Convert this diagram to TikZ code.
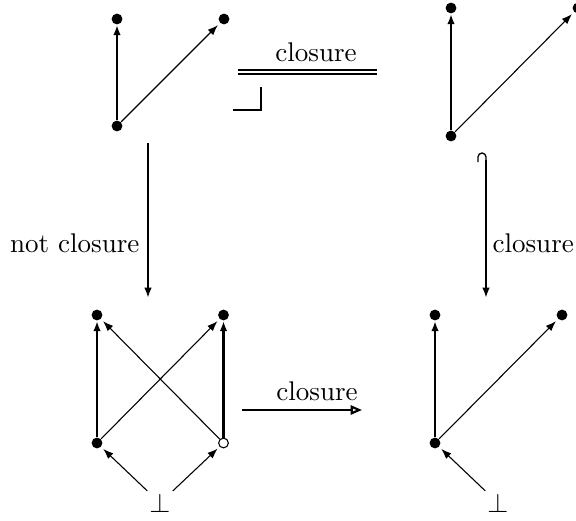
\documentclass[tikz,border=0pt]{standalone}
\usetikzlibrary{arrows.meta}
\begin{document}
\begin{tikzpicture}[x=0.37pt,y=-0.37pt,
  pt/.style={circle,fill,inner sep=0pt,minimum size=4pt},
  opt/.style={circle,draw,fill=white,line width=0.4pt,inner sep=0pt,minimum size=3.6pt},
  botm/.style={inner sep=0.8pt},
  tip/.style={-{Latex[length=3.8pt,width=2.8pt]}},
  thickar/.style={tip,line width=1.05pt},
  thinar/.style={tip,line width=0.4pt,shorten >=1pt},
  maparr/.style={tip,line width=0.9pt},
  lbl/.style={inner sep=0pt}]
\useasboundingbox (0,0) rectangle (576,520);

% upper left poset
\node[pt] (a1) at (117,19) {};
\node[pt] (a2) at (224,19) {};
\node[pt] (a0) at (117,126) {};
\draw[thickar] (a0) -- (a1);
\draw[thinar] (a0) -- (a2);

% upper right poset
\node[pt] (b1) at (451,8) {};
\node[pt] (b2) at (578,8) {};
\node[pt] (b0) at (451,136) {};
\draw[thickar] (b0) -- (b1);
\draw[thinar] (b0) -- (b2);

% lower left poset
\node[pt] (c1) at (97,315) {};
\node[pt] (c2) at (223.5,315) {};
\node[pt] (c3) at (97,443) {};
\node[opt] (c4) at (223.5,443) {};
\node[botm] (cb) at (160,503) {$\bot$};
\draw[thickar] (c3) -- (c1);
\draw[thickar] (c4) -- (c2);
\draw[thinar] (c3) -- (c2);
\draw[thinar] (c4) -- (c1);
\draw[thinar] (cb) -- (c3);
\draw[thinar] (cb) -- (c4);

% lower right poset
\node[pt] (d1) at (435,315) {};
\node[pt] (d2) at (562,315) {};
\node[pt] (d3) at (435,443) {};
\node[botm] (db) at (498,503) {$\bot$};
\draw[thickar] (d3) -- (d1);
\draw[thinar] (d3) -- (d2);
\draw[thinar] (db) -- (d3);

% maps between the posets
\coordinate (eqL) at (238,72);
\coordinate (eqR) at (377,72);
\draw[double,double distance=1.1pt,line width=0.4pt] (eqL) -- (eqR);
\node[lbl] (eqlab) at (316,52) {closure};
\draw[line width=0.7pt] (233,110) -- (261,110) -- (261,87);

\coordinate (vlS) at (148,143);
\coordinate (vlE) at (148,298);
\draw[maparr] (vlS) -- (vlE);
\node[lbl,anchor=east] (vllab) at (140,243) {not closure};

% inclusion: hooked tail
\coordinate (vrS) at (486,160);
\coordinate (vrE) at (486,298);
\draw[maparr] (vrS) -- (vrE);
\draw[line width=0.5pt] (vrS) -- ++(0,-3)
  arc[start angle=0,end angle=-180,radius=4] -- ++(0,5);
\node[lbl,anchor=west] (vrlab) at (492,243) {closure};

\coordinate (hS) at (242,410);
\coordinate (hE) at (362,410);
\draw[line width=0.8pt,-{Triangle[open,length=4.2pt,width=3.4pt]}] (hS) -- (hE);
\node[lbl] (hlab) at (317,391) {closure};
\end{tikzpicture}
\end{document}
